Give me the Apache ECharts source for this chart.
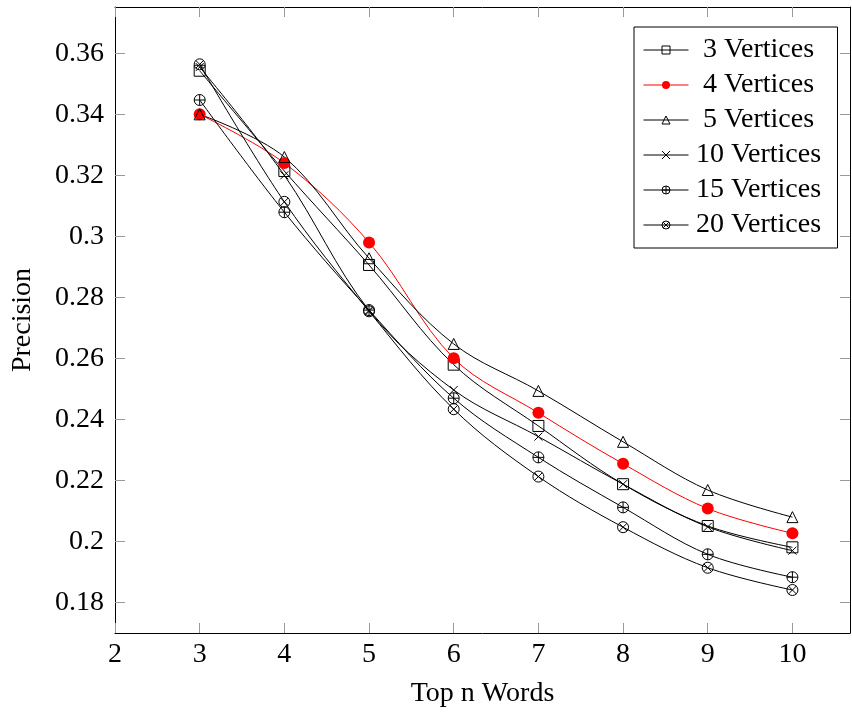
<!DOCTYPE html>
<html>
<head>
<meta charset="utf-8">
<script src="https://cdn.jsdelivr.net/npm/echarts@6/dist/echarts.min.js"></script>
<style>html,body{margin:0;padding:0;background:#fff;}#c{width:852px;height:714px;}</style>
</head>
<body>
<div id="c"></div>
<script>
const topN = [3, 4, 5, 6, 7, 8, 9, 10];
const names = ['3 Vertices', '4 Vertices', '5 Vertices', '10 Vertices', '15 Vertices', '20 Vertices'];
const v3  = [0.3543, 0.3214, 0.2906, 0.2579, 0.2378, 0.2187, 0.2050, 0.1980];
const v4  = [0.3400, 0.3240, 0.2980, 0.2600, 0.2421, 0.2254, 0.2107, 0.2026];
const v5  = [0.3400, 0.3260, 0.2928, 0.2647, 0.2493, 0.2326, 0.2168, 0.2079];
const v10 = [0.3555, 0.3200, 0.2757, 0.2496, 0.2343, 0.2187, 0.2047, 0.1969];
const v15 = [0.3447, 0.3079, 0.2758, 0.2469, 0.2275, 0.2111, 0.1957, 0.1882];
const v20 = [0.3564, 0.3113, 0.2754, 0.2433, 0.2212, 0.2046, 0.1913, 0.1840];
const xTicks = [2, 3, 4, 5, 6, 7, 8, 9, 10];
const yTicks = [0.18, 0.2, 0.22, 0.24, 0.26, 0.28, 0.3, 0.32, 0.34, 0.36];

const FONT = 'Liberation Serif';
const FS = 28;
const symbols = {
  square: 'rect',
  circle: 'circle',
  triangle: 'triangle',
  cross: 'path://M0,0L10,10M10,0L0,10',
  oplus: 'path://M0,5A5,5,0,1,1,10,5A5,5,0,1,1,0,5ZM5,0L5,10M0,5L10,5',
  otimes: 'path://M0,5A5,5,0,1,1,10,5A5,5,0,1,1,0,5ZM1.46,1.46L8.54,8.54M8.54,1.46L1.46,8.54'
};
const seriesSymbols = [symbols.square, symbols.circle, symbols.triangle, symbols.cross, symbols.oplus, symbols.otimes];
const seriesColors = ['#000', '#ff0000', '#000', '#000', '#000', '#000'];
const seriesFilled = [false, true, false, false, false, false];

function pairs(vals) { return topN.map((x, i) => [x, vals[i]]); }

function styleFor(i) {
  return seriesFilled[i]
    ? { color: seriesColors[i], borderColor: seriesColors[i], borderWidth: 0 }
    : { color: 'rgba(0,0,0,0)', borderColor: seriesColors[i], borderWidth: 1 };
}

function mkSeries(i, vals, size) {
  return {
    name: names[i],
    type: 'line',
    data: pairs(vals),
    smooth: 0.35,
    symbol: seriesSymbols[i],
    symbolSize: size,
    showAllSymbol: true,
    lineStyle: { color: seriesColors[i], width: 1 },
    itemStyle: styleFor(i),
    emphasis: { disabled: true },
    animation: false
  };
}

const axisCommon = {
  type: 'value',
  splitLine: { show: false },
  axisLine: { show: true, onZero: false, lineStyle: { color: '#000', width: 1 } }
};

const option = {
  backgroundColor: '#fff',
  animation: false,
  grid: { left: 115, right: 2, top: 7, bottom: 81, containLabel: false },
  xAxis: [
    Object.assign({}, axisCommon, {
      min: 2, max: 10.68, position: 'bottom',
      axisTick: { show: true, inside: true, length: 10, lineStyle: { color: '#999' }, customValues: xTicks },
      axisLabel: { customValues: xTicks, fontFamily: FONT, fontSize: FS, color: '#000', margin: 8 },
      name: 'Top n Words', nameLocation: 'middle', nameGap: 47,
      nameTextStyle: { fontFamily: FONT, fontSize: FS, color: '#000' }
    }),
    Object.assign({}, axisCommon, {
      min: 2, max: 10.68, position: 'top',
      axisTick: { show: true, inside: true, length: 10, lineStyle: { color: '#999' }, customValues: xTicks },
      axisLabel: { show: false }
    })
  ],
  yAxis: [
    Object.assign({}, axisCommon, {
      min: 0.1699, max: 0.3752, position: 'left',
      axisTick: { show: true, inside: true, length: 10, lineStyle: { color: '#999' }, customValues: yTicks },
      axisLabel: { customValues: yTicks, fontFamily: FONT, fontSize: FS, color: '#000', margin: 11 },
      name: 'Precision', nameLocation: 'middle', nameGap: 78,
      nameTextStyle: { fontFamily: FONT, fontSize: FS, color: '#000' }
    }),
    Object.assign({}, axisCommon, {
      min: 0.1699, max: 0.3752, position: 'right',
      axisTick: { show: true, inside: true, length: 10, lineStyle: { color: '#999' }, customValues: yTicks },
      axisLabel: { show: false }
    })
  ],
  legend: {
    data: names.map((n, i) => ({ name: n, itemStyle: styleFor(i), lineStyle: { color: seriesColors[i], width: 1 } })),
    orient: 'vertical',
    left: 634,
    top: 27,
    padding: [9, 14, 9, 9],
    itemWidth: 45,
    itemHeight: 10,
    itemGap: 7,
    borderColor: '#000',
    borderWidth: 1,
    backgroundColor: '#fff',
    formatter: '{t|{name}}',
    textStyle: {
      fontFamily: FONT, fontSize: FS, color: '#000',
      rich: { t: { width: 130, align: 'center', fontFamily: FONT, fontSize: FS, color: '#000', lineHeight: 28 } }
    }
  },
  series: [
    mkSeries(0, v3, 11),
    mkSeries(1, v4, 12),
    mkSeries(2, v5, 11),
    mkSeries(3, v10, 8),
    mkSeries(4, v15, 11),
    mkSeries(5, v20, 11)
  ]
};

const chart = echarts.init(document.getElementById('c'), null, { renderer: 'canvas' });
chart.setOption(option);
</script>
</body>
</html>
